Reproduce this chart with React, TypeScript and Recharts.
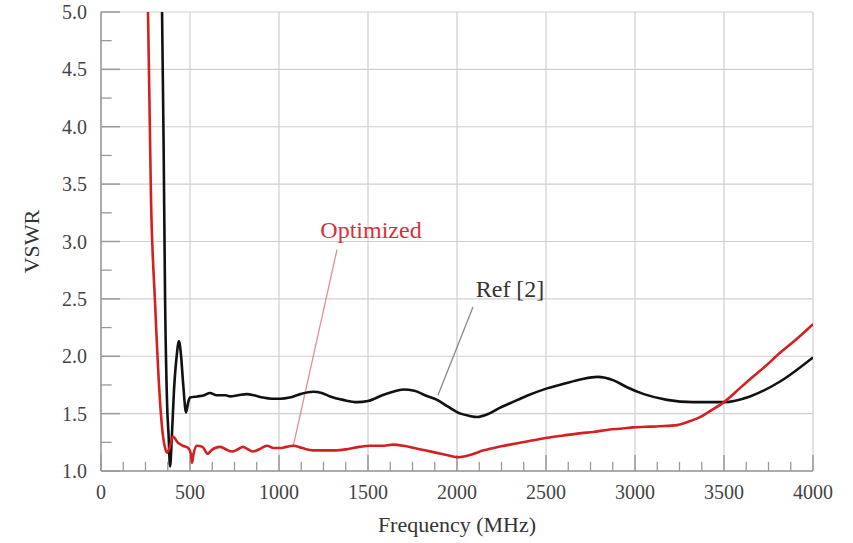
import React from 'react';
import { LineChart, Line, XAxis, YAxis, CartesianGrid, ReferenceLine, ReferenceDot } from 'recharts';

const FONT = '"Liberation Serif", "Times New Roman", serif';

const xTicks = [0, 500, 1000, 1500, 2000, 2500, 3000, 3500, 4000];
const yTicks = [1.0, 1.5, 2.0, 2.5, 3.0, 3.5, 4.0, 4.5, 5.0];
const xMinorTicks = [125, 250, 375, 625, 750, 875, 1125, 1250, 1375, 1625, 1750, 1875, 2125, 2250, 2375, 2625, 2750, 2875, 3125, 3250, 3375, 3625, 3750, 3875];
const yMinorTicks = [1.25, 1.75, 2.25, 2.75, 3.25, 3.75, 4.25, 4.75];

const optFreq = [255, 264, 281, 303, 331, 343, 360, 371, 385, 404, 430, 460, 490, 505, 511, 520, 539, 570, 600, 620, 669, 700, 736, 770, 798, 825, 854, 890, 933, 970, 1006, 1040, 1079, 1130, 1191, 1260, 1320, 1382, 1450, 1511, 1580, 1640, 1700, 1760, 1820, 1880, 1940, 2000, 2073, 2150, 2230, 2298, 2400, 2506, 2600, 2700, 2764, 2850, 2930, 2989, 3060, 3140, 3236, 3300, 3365, 3430, 3500, 3570, 3646, 3730, 3815, 3900, 4000];
const optVswr = [5.5, 5.0, 3.36, 2.49, 1.62, 1.38, 1.2, 1.16, 1.2, 1.3, 1.25, 1.22, 1.2, 1.15, 1.07, 1.15, 1.22, 1.21, 1.15, 1.18, 1.21, 1.19, 1.17, 1.19, 1.21, 1.19, 1.17, 1.19, 1.22, 1.2, 1.2, 1.21, 1.22, 1.2, 1.18, 1.18, 1.18, 1.19, 1.21, 1.22, 1.22, 1.23, 1.22, 1.2, 1.18, 1.16, 1.14, 1.12, 1.14, 1.18, 1.21, 1.23, 1.26, 1.29, 1.31, 1.33, 1.34, 1.36, 1.37, 1.38, 1.385, 1.39, 1.4, 1.43, 1.47, 1.53, 1.6, 1.695, 1.8, 1.91, 2.03, 2.14, 2.28];

const refFreq = [335, 343, 352, 360, 371, 380, 388, 398, 410, 425, 438, 450, 462, 478, 490, 500, 540, 580, 612, 650, 700, 725, 770, 820, 860, 910, 960, 1006, 1060, 1120, 1191, 1240, 1287, 1360, 1438, 1500, 1580, 1640, 1697, 1760, 1820, 1888, 1950, 2020, 2070, 2112, 2180, 2240, 2298, 2400, 2506, 2600, 2700, 2790, 2880, 2955, 3050, 3180, 3326, 3500, 3646, 3815, 4000];
const refVswr = [5.5, 5.0, 3.8, 2.5, 1.6, 1.3, 1.04, 1.3, 1.7, 2.0, 2.13, 2.0, 1.75, 1.51, 1.6, 1.64, 1.65, 1.66, 1.68, 1.66, 1.66, 1.65, 1.66, 1.67, 1.66, 1.64, 1.63, 1.63, 1.64, 1.67, 1.69, 1.68, 1.65, 1.62, 1.6, 1.61, 1.66, 1.69, 1.71, 1.7, 1.66, 1.62, 1.56, 1.5, 1.48, 1.47, 1.5, 1.55, 1.59, 1.66, 1.72, 1.76, 1.8, 1.82, 1.79, 1.73, 1.67, 1.62, 1.6, 1.6, 1.65, 1.78, 1.99];

const optData = optFreq.map((f, i) => ({ f, v: optVswr[i] }));
const refData = refFreq.map((f, i) => ({ f, v: refVswr[i] }));

const annotations = [
  { text: 'Optimized', f: 1517, v: 3.1, color: '#d8303c', from: { f: 1326, v: 2.93 }, to: { f: 1079, v: 1.21 }, lineColor: '#e09090' },
  { text: 'Ref [2]', f: 2298, v: 2.59, color: '#333333', from: { f: 2090, v: 2.43 }, to: { f: 1893, v: 1.66 }, lineColor: '#8a8a8a' },
];

const TICK_COLOR = '#9a9a9a';

export default function App() {
  return (
    <div style={{ position: 'absolute', left: 0, top: 0, background: '#fff' }}>
      <LineChart width={853} height={543} margin={{ top: 12, right: 40, bottom: 11, left: 0 }}>
        <CartesianGrid stroke="#cfcfcf" strokeWidth={1.2} />
        <XAxis
          type="number"
          dataKey="f"
          domain={[0, 4000]}
          ticks={xTicks}
          allowDataOverflow
          height={61}
          tickLine={false}
          tickSize={0}
          tickMargin={14}
          axisLine={{ stroke: '#999', strokeWidth: 1.5 }}
          tick={{ fill: '#444', fontSize: 20, fontFamily: FONT }}
          label={{ value: 'Frequency (MHz)', position: 'insideBottom', offset: 0, fill: '#333', fontSize: 22, fontFamily: FONT }}
        />
        <YAxis
          type="number"
          dataKey="v"
          domain={[1, 5]}
          ticks={yTicks}
          allowDataOverflow
          width={101}
          tickLine={false}
          tickSize={0}
          tickMargin={14}
          axisLine={{ stroke: '#999', strokeWidth: 1.5 }}
          tickFormatter={(t: number) => t.toFixed(1)}
          tick={{ fill: '#444', fontSize: 20, fontFamily: FONT }}
          label={{
            content: (props: any) => {
              const vb = props.viewBox || { x: 0, y: 12, width: 101, height: 459 };
              const cx = vb.x + 31;
              const cy = vb.y + vb.height / 2;
              return (
                <text x={cx} y={cy} transform={`rotate(-90 ${cx} ${cy})`} textAnchor="middle" dominantBaseline="central" fill="#333" fontSize={22} fontFamily={FONT}>
                  VSWR
                </text>
              );
            },
          }}
        />
        {xMinorTicks.map((t) => (
          <ReferenceLine key={'xm' + t} segment={[{ x: t, y: 1 }, { x: t, y: 1.08 }]} stroke={TICK_COLOR} strokeWidth={1.3} />
        ))}
        {xTicks.map((t) => (
          <ReferenceLine key={'xM' + t} segment={[{ x: t, y: 1 }, { x: t, y: 1.14 }]} stroke={TICK_COLOR} strokeWidth={1.5} />
        ))}
        {yMinorTicks.map((t) => (
          <ReferenceLine key={'ym' + t} segment={[{ x: 0, y: t }, { x: 60, y: t }]} stroke={TICK_COLOR} strokeWidth={1.3} />
        ))}
        {yTicks.map((t) => (
          <ReferenceLine key={'yM' + t} segment={[{ x: 0, y: t }, { x: 107, y: t }]} stroke={TICK_COLOR} strokeWidth={1.5} />
        ))}
        {annotations.map((a) => (
          <ReferenceLine key={'al' + a.text} segment={[{ x: a.from.f, y: a.from.v }, { x: a.to.f, y: a.to.v }]} stroke={a.lineColor} strokeWidth={1.3} />
        ))}
        <Line data={refData} dataKey="v" type="monotone" stroke="#111" strokeWidth={2.6} dot={false} isAnimationActive={false} />
        <Line data={optData} dataKey="v" type="monotone" stroke="#d42020" strokeWidth={2.6} dot={false} isAnimationActive={false} />
        {annotations.map((a) => (
          <ReferenceDot
            key={'at' + a.text}
            x={a.f}
            y={a.v}
            r={0}
            shape={(p: any) => (
              <text x={p.cx} y={p.cy} textAnchor="middle" dominantBaseline="central" fill={a.color} fontSize={24} fontFamily={FONT}>
                {a.text}
              </text>
            )}
          />
        ))}
      </LineChart>
    </div>
  );
}
